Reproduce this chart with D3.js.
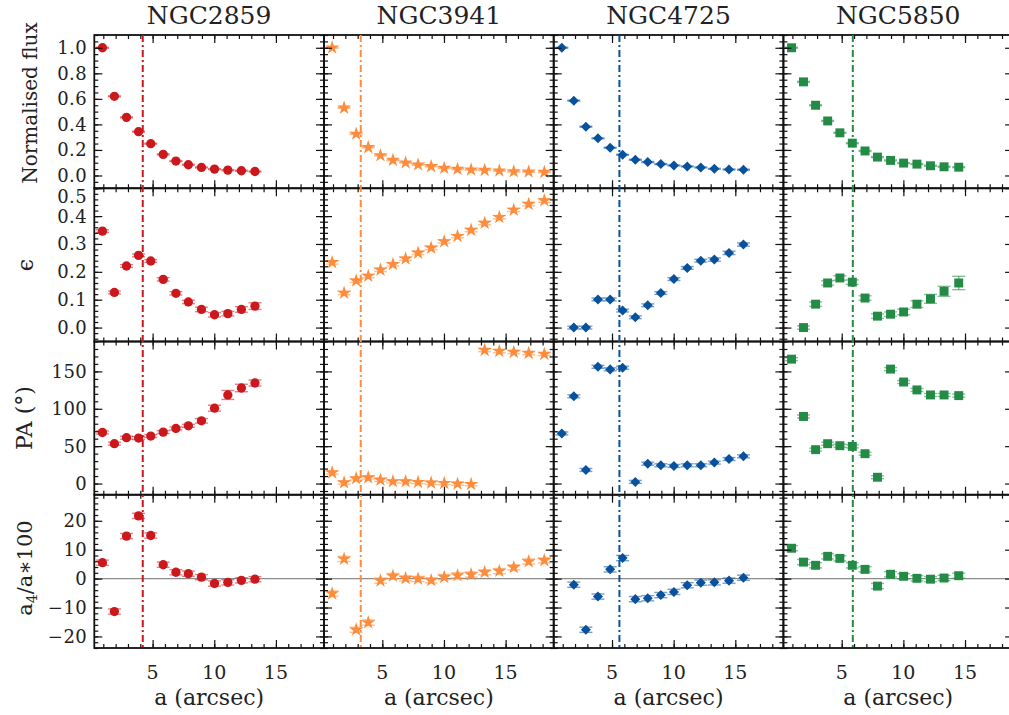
<!DOCTYPE html>
<html>
<head>
<meta charset="utf-8">
<script src="https://cdn.jsdelivr.net/npm/d3@7"></script>
<style>
  body { margin: 0; background: #fff; }
  svg text { font-family: "DejaVu Serif", serif; fill: #222; }
</style>
</head>
<body>
<svg id="chart" width="1009" height="715"></svg>
<script>
// galaxies, one per column
var galaxies = ["NGC2859", "NGC3941", "NGC4725", "NGC5850"];
var colors = ["#cb181d", "#fd8d3c", "#08519c", "#238b45"];
var barEnd = [4.2, 3.25, 5.6, 5.9];   // dash-dot marker (arcsec)

// semi-major axis grid (arcsec)
var sma = [0.93, 1.9, 2.88, 3.86, 4.85, 5.86, 6.89, 7.9, 8.96, 10.02, 11.1, 12.2, 13.3, 14.49, 15.66, 16.87, 18.14];

// NGC2859
var flux2859 = [1.0, 0.62, 0.455, 0.343, 0.249, 0.165, 0.113, 0.084, 0.063, 0.05, 0.042, 0.037, 0.031];
var ell2859 = [0.346, 0.126, 0.221, 0.259, 0.239, 0.173, 0.123, 0.092, 0.065, 0.046, 0.05, 0.065, 0.077];
var pa2859 = [68.3, 53.3, 61.3, 60.8, 63.5, 68.8, 73.7, 77.2, 83.9, 100.8, 118.5, 127.8, 134.5];
var a4_2859 = [5.5, -11.4, 14.7, 21.7, 14.9, 4.8, 2.2, 1.7, 0.5, -1.7, -1.3, -0.6, -0.2];
var ellErr2859 = [0.005, 0.005, 0.005, 0.005, 0.005, 0.006, 0.006, 0.006, 0.008, 0.008, 0.008, 0.01, 0.012];
var paErr2859 = [2, 2, 2, 2, 2, 2, 2, 2, 3, 4, 6, 5, 4];

// NGC3941
var flux3941 = [1.0, 0.529, 0.325, 0.22, 0.157, 0.12, 0.1, 0.084, 0.071, 0.058, 0.05, 0.045, 0.042, 0.037, 0.031, 0.029, 0.026];
var ell3941 = [0.234, 0.124, 0.168, 0.185, 0.207, 0.227, 0.247, 0.268, 0.286, 0.309, 0.328, 0.35, 0.375, 0.396, 0.422, 0.443, 0.456];
var pa3941 = [14.6, 1.3, 6.7, 8.0, 4.9, 2.7, 2.7, 1.8, 0.9, 0.4, -0.4, -0.9, 178.4, 177.1, 175.8, 174.4, 173.1];
var a4_3941 = [-5.2, 6.8, -17.7, -15.2, -0.7, 0.9, 0.1, -0.1, -0.6, 0.5, 1.1, 1.4, 2.2, 2.6, 3.9, 5.9, 6.3];
var ellErr3941 = [0.006, 0.006, 0.006, 0.006, 0.006, 0.006, 0.006, 0.006, 0.006, 0.006, 0.006, 0.006, 0.006, 0.006, 0.006, 0.006, 0.007];

// NGC4725
var flux4725 = [1.0, 0.586, 0.382, 0.291, 0.217, 0.162, 0.123, 0.105, 0.089, 0.079, 0.071, 0.063, 0.052, 0.047, 0.045];
var ell4725 = [null, 0.0, 0.0, 0.101, 0.101, 0.061, 0.037, 0.08, 0.124, 0.174, 0.214, 0.24, 0.244, 0.268, 0.298];
var pa4725 = [67.0, 116.7, 18.2, 156.2, 152.7, 154.9, 2.2, 26.6, 24.4, 23.5, 24.4, 24.4, 28.0, 32.8, 36.4];
var a4_4725 = [null, -2.1, -17.7, -6.2, 3.2, 7.1, -7.1, -6.8, -5.7, -4.6, -2.3, -1.4, -1.3, -0.7, 0.3];
var ellErr4725 = [null, 0.005, 0.005, 0.005, 0.005, 0.005, 0.005, 0.005, 0.005, 0.005, 0.005, 0.005, 0.006, 0.006, 0.006];

// NGC5850
var flux5850 = [1.0, 0.733, 0.55, 0.427, 0.334, 0.253, 0.192, 0.144, 0.118, 0.097, 0.089, 0.076, 0.068, 0.065];
var ell5850 = [null, 0.0, 0.084, 0.16, 0.178, 0.163, 0.106, 0.041, 0.048, 0.056, 0.084, 0.103, 0.13, 0.16];
var pa5850 = [166.4, 89.7, 45.3, 53.3, 50.6, 49.7, 39.9, 8.4, 153.1, 135.8, 125.2, 118.5, 118.5, 117.6];
var a4_5850 = [10.5, 5.7, 4.6, 7.7, 7.0, 4.6, 3.2, -2.6, 1.5, 0.8, 0.1, -0.2, 0.2, 1.0];
var ellErr5850 = [null, 0.006, 0.008, 0.008, 0.008, 0.008, 0.008, 0.008, 0.008, 0.01, 0.012, 0.016, 0.018, 0.024];

// tick labels
var xTicks = [5, 10, 15];
var yTicks = [[0, 0.2, 0.4, 0.6, 0.8, 1.0], [0, 0.1, 0.2, 0.3, 0.4, 0.5], [0, 50, 100, 150], [-20, -10, 0, 10, 20]];
var yLabels = ["Normalised flux", "\u03f5", "PA (\u00b0)", "a4"];

var W = 1009, H = 715;
var marginLeft = 94.3, marginTop = 35, panelW = 229.7, panelH = 153.25;

var rows = [
  { domain: [-0.1, 1.1], minor: 0.05, fmt: d3.format(".1f"), vals: [flux2859, flux3941, flux4725, flux5850], errs: [null, null, null, null], errDef: 0.004 },
  { domain: [-0.05, 0.5], minor: 0.02, fmt: d3.format(".1f"), vals: [ell2859, ell3941, ell4725, ell5850], errs: [ellErr2859, ellErr3941, ellErr4725, ellErr5850] },
  { domain: [-15, 190], minor: 10, fmt: d3.format("d"), vals: [pa2859, pa3941, pa4725, pa5850], errs: [paErr2859, null, null, null], errDef: 2 },
  { domain: [-24, 29], minor: 2, fmt: d3.format("d"), vals: [a4_2859, a4_3941, a4_4725, a4_5850], errs: [null, null, null, null], errDef: 0.9 }
];

var symbols = [
  d3.symbol().type(d3.symbolCircle).size(68),
  d3.symbol().type(d3.symbolStar).size(62),
  d3.symbol().type(d3.symbolDiamond2).size(64),
  d3.symbol().type(d3.symbolSquare).size(80)
];

var x = d3.scaleLinear().domain([0.27, 18.9]).range([0, panelW]);
rows.forEach(function(r) {
  r.y = d3.scaleLinear().domain(r.domain).range([panelH, 0]);
});

var svg = d3.select("#chart");
svg.append("rect").attr("width", W).attr("height", H).attr("fill", "#fff");

function inwardTicks(g, axis, scale, values, size) {
  g.call(axis(scale).tickValues(values).tickSize(-size).tickFormat(""));
  g.select(".domain").remove();
  g.selectAll(".tick line").attr("stroke", "#111").attr("stroke-width", 1.2);
}

function rangeIn(domain, step) {
  var out = [];
  for (var v = Math.ceil(domain[0] / step) * step; v <= domain[1] + 1e-9; v += step) out.push(+v.toFixed(6));
  return out;
}

galaxies.forEach(function(name, c) {
  var col = svg.append("g").attr("transform", "translate(" + (marginLeft + c * panelW) + "," + marginTop + ")");
  var color = colors[c];

  // title
  col.append("text")
    .attr("x", panelW / 2).attr("y", -11)
    .attr("text-anchor", "middle")
    .attr("font-size", 25)
    .text(name);

  rows.forEach(function(r, ri) {
    var g = col.append("g").attr("transform", "translate(0," + (ri * panelH) + ")");
    var y = r.y;

    if (ri === 3) {
      g.append("line")
        .attr("x1", 0).attr("x2", panelW)
        .attr("y1", y(0)).attr("y2", y(0))
        .attr("stroke", "#8c8c8c").attr("stroke-width", 1.3);
    }

    var vals = r.vals[c], errs = r.errs[c];
    var pts = [];
    vals.forEach(function(v, i) {
      if (v === null) return;
      var e = errs ? errs[i] : r.errDef;
      pts.push({ a: sma[i], v: v, e: e });
    });

    // error bars
    var eb = g.append("g")
      .attr("stroke", color).attr("stroke-opacity", 0.55).attr("stroke-width", 1.4);
    pts.forEach(function(p) {
      var px = x(p.a), y0 = y(p.v - p.e), y1 = y(p.v + p.e);
      eb.append("line").attr("x1", px).attr("x2", px).attr("y1", y0).attr("y2", y1);
      eb.append("line").attr("x1", px - 6.5).attr("x2", px + 6.5).attr("y1", y0).attr("y2", y0);
      eb.append("line").attr("x1", px - 6.5).attr("x2", px + 6.5).attr("y1", y1).attr("y2", y1);
    });

    // markers
    g.append("g").selectAll("path")
      .data(pts)
      .join("path")
      .attr("d", symbols[c])
      .attr("transform", function(d) { return "translate(" + x(d.a) + "," + y(d.v) + ")"; })
      .attr("fill", color);

    // ticks on all four sides, pointing inward
    var yMinor = rangeIn(r.domain, r.minor);
    var xMinor = d3.range(1, 19);
    inwardTicks(g.append("g"), d3.axisLeft, y, yMinor, 4);
    inwardTicks(g.append("g"), d3.axisLeft, y, yTicks[ri], 8);
    inwardTicks(g.append("g").attr("transform", "translate(" + panelW + ",0)"), d3.axisRight, y, yMinor, 4);
    inwardTicks(g.append("g").attr("transform", "translate(" + panelW + ",0)"), d3.axisRight, y, yTicks[ri], 8);
    inwardTicks(g.append("g"), d3.axisTop, x, xMinor, 4);
    inwardTicks(g.append("g"), d3.axisTop, x, xTicks, 8);
    inwardTicks(g.append("g").attr("transform", "translate(0," + panelH + ")"), d3.axisBottom, x, xMinor, 4);
    inwardTicks(g.append("g").attr("transform", "translate(0," + panelH + ")"), d3.axisBottom, x, xTicks, 8);

    g.append("rect")
      .attr("width", panelW).attr("height", panelH)
      .attr("fill", "none").attr("stroke", "#111").attr("stroke-width", 1.8);

    // y tick labels on the first column
    if (c === 0) {
      yTicks[ri].forEach(function(t) {
        var ty = Math.max(8, Math.min(panelH - 8, y(t)));
        g.append("text")
          .attr("x", -7).attr("y", ty)
          .attr("dy", "0.36em")
          .attr("text-anchor", "end")
          .attr("font-size", 18)
          .attr("letter-spacing", 0.5)
          .text(r.fmt(t));
      });
    }
  });

  // dash-dot line across all rows
  col.append("line")
    .attr("x1", x(barEnd[c])).attr("x2", x(barEnd[c]))
    .attr("y1", 0).attr("y2", 4 * panelH)
    .attr("stroke", color).attr("stroke-width", 2)
    .attr("stroke-dasharray", "7,3,2,3");

  // x tick labels and axis title
  xTicks.forEach(function(t) {
    col.append("text")
      .attr("x", x(t)).attr("y", 4 * panelH + 31)
      .attr("text-anchor", "middle")
      .attr("font-size", 19)
      .text(t);
  });
  col.append("text")
    .attr("x", panelW / 2).attr("y", 4 * panelH + 57)
    .attr("text-anchor", "middle")
    .attr("font-size", 22)
    .text("a (arcsec)");
});

// y axis titles
var labelPos = [[37, 103], [33, 265], [32, 418], [32, 568]];
var labelSize = [20, 22, 22, 21];
yLabels.forEach(function(lab, i) {
  var t = svg.append("text")
    .attr("transform", "translate(" + labelPos[i][0] + "," + labelPos[i][1] + ") rotate(-90)")
    .attr("text-anchor", "middle")
    .attr("font-size", labelSize[i]);
  if (i === 3) {
    t.append("tspan").text("a");
    t.append("tspan").attr("font-size", 14).attr("dy", 5).text("4");
    t.append("tspan").attr("dy", -5).text("/a\u2217100");
  } else {
    t.text(lab);
  }
});
</script>
</body>
</html>
